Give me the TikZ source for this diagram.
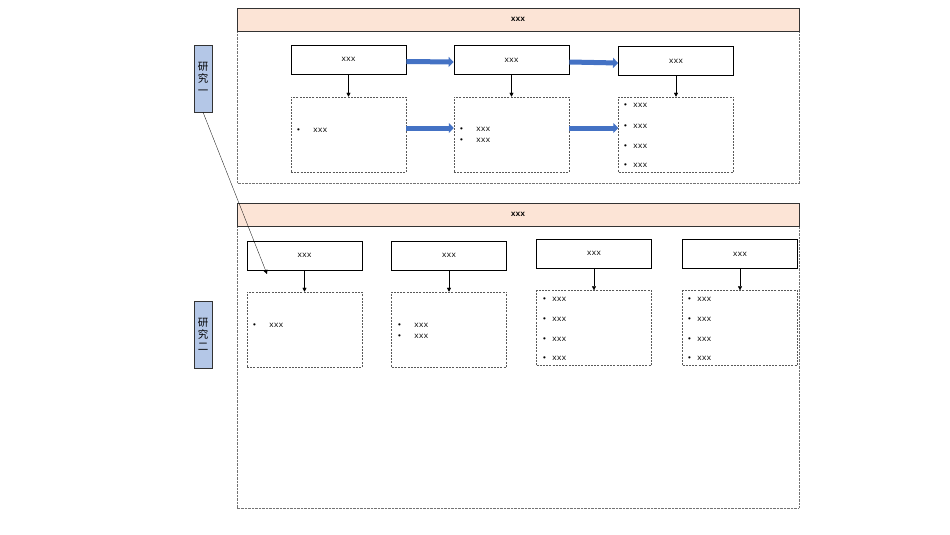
\documentclass[tikz,border=0pt]{standalone}
\usepackage{fontspec}
\newfontfamily\cjk{Noto Sans CJK SC}
\newfontfamily\boxfont{Liberation Mono}
\usetikzlibrary{arrows.meta}
\definecolor{headfill}{HTML}{FCE4D6}
\definecolor{sidefill}{HTML}{B4C7E7}
\definecolor{flowblue}{HTML}{4472C4}

\begin{document}
\begin{tikzpicture}
  [
    x=1pt, y=-1pt,
    every node/.style={font=\boxfont\fontsize{8}{9}\selectfont, inner sep=0pt},
    header/.style={
      draw=black!80,
      fill=headfill,
      minimum width=562pt,
      minimum height=23pt,
      font=\boxfont\bfseries\fontsize{8}{9}\selectfont
    },
    frame/.style={
      draw=black!55,
      dash pattern=on 0.8pt off 0.6pt,
      line width=0.6pt
    },
    side/.style={
      draw=black!80,
      fill=sidefill,
      minimum width=18pt,
      minimum height=67pt,
      align=center,
      font=\cjk\fontsize{10.5}{12}\selectfont
    },
    stage/.style={
      draw,
      line width=0.9pt,
      minimum width=115pt,
      minimum height=29pt
    },
    detail/.style={
      draw=black!65,
      dash pattern=on 2pt off 1.2pt,
      line width=0.5pt,
      minimum width=115pt,
      minimum height=75pt
    },
    item/.style={anchor=west},
    flow/.style={
      flowblue,
      line width=5pt,
      -{Triangle[length=5pt,width=10pt]}
    },
    down/.style={
      -{Triangle[length=4pt,width=4pt]},
      line width=0.4pt
    }
  ]
    \useasboundingbox (0,0) rectangle (950,535);
    % study one
    \draw [frame] (237,31) rectangle (799,183);
    \node [header] (headA) at (518,19.5) {xxx};
    \node [side] (sideA) at (203,78.5) {研\\究\\一};
    \node [stage] (a1) at (348.5,59.5) {xxx};
    \node [stage] (a2) at (511.5,60) {xxx};
    \node [stage] (a3) at (676,61) {xxx};
    \node [detail] (da1) at (348.5,134.5) {};
    \node [detail] (da2) at (511.5,134.5) {};
    \node [detail] (da3) at (676,134.5) {};
    \draw [down] (a1) -- (da1);
    \draw [down] (a2) -- (da2);
    \draw [down] (a3) -- (da3);
    \draw [flow] ([yshift=-2pt]a1.east) -- ([yshift=-2pt]a2.west);
    \draw [flow] ([yshift=-2pt]a2.east) -- ([yshift=-2pt]a3.west);
    \draw [flow] ([yshift=6.5pt]da1.east) -- ([yshift=6.5pt]da2.west);
    \draw [flow] ([yshift=6.5pt]da2.east) -- ([yshift=6.5pt]da3.west);
    % items
    \node [item] (ia1) at (296,130) {\textbullet\hspace{12pt}xxx};
    \node [item] (ia2) at (459,129) {\textbullet\hspace{12pt}xxx};
    \node [item] (ia3) at (459,140) {\textbullet\hspace{12pt}xxx};
    \foreach \y [count=\i] in {105,126,146,165}
      \node [item] (ib\i) at (623,\y) {\textbullet\hspace{5pt}xxx};
    % study two
    \draw [frame] (237,226) rectangle (799,508);
    \node [header] (headB) at (518,214.5) {xxx};
    \node [side] (sideB) at (203,334.5) {研\\究\\二};
    \node [stage] (b1) at (304.5,255.5) {xxx};
    \node [stage] (b2) at (449,255.5) {xxx};
    \node [stage] (b3) at (594,253.5) {xxx};
    \node [stage] (b4) at (740,254) {xxx};
    \node [detail] (db1) at (304.5,329.5) {};
    \node [detail] (db2) at (449,329.5) {};
    \node [detail] (db3) at (594,328) {};
    \node [detail] (db4) at (740,328) {};
    \draw [down] (b1) -- (db1);
    \draw [down] (b2) -- (db2);
    \draw [down] (b3) -- (db3);
    \draw [down] (b4) -- (db4);
    \node [item] (ic1) at (252,325) {\textbullet\hspace{12pt}xxx};
    \node [item] (ic2) at (397,325) {\textbullet\hspace{12pt}xxx};
    \node [item] (ic3) at (397,336) {\textbullet\hspace{12pt}xxx};
    \foreach \y [count=\i] in {299,319,339,358}
      \node [item] (id\i) at (542,\y) {\textbullet\hspace{5pt}xxx};
    \foreach \y [count=\i] in {299,319,339,358}
      \node [item] (ie\i) at (687,\y) {\textbullet\hspace{5pt}xxx};
    % link
    \coordinate (linkEnd) at (267,274);
    \draw [down, line width=0.3pt] (sideA.south) -- (linkEnd);
  \end{tikzpicture}
\end{document}
